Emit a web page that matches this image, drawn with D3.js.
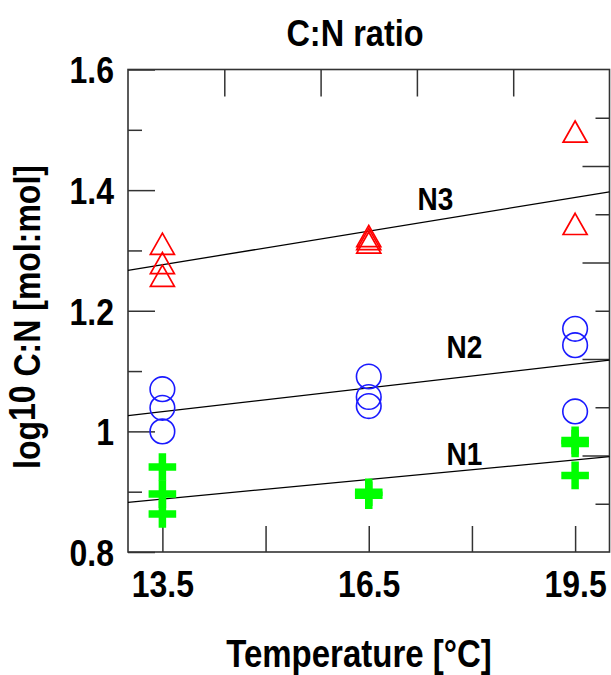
<!DOCTYPE html>
<html>
<head>
<meta charset="utf-8">
<script src="https://cdn.jsdelivr.net/npm/d3@7"></script>
<style>
  html, body { margin: 0; padding: 0; background: #fff; }
  svg { display: block; font-family: "Liberation Sans", Arial, sans-serif; font-weight: bold; }
</style>
</head>
<body>
<svg id="chart" width="611" height="675"></svg>
<script>
// ---- data ----
const title = "C:N ratio";
const xLabel = "Temperature [°C]";
const xTicks = [13.5, 15, 16.5, 18, 19.5];
const xTickLabels = ["13.5", "", "16.5", "", "19.5"];
const yMajorTicks = [0.8, 1.0, 1.2, 1.4, 1.6];
const yMajorLabels = ["0.8", "1", "1.2", "1.4", "1.6"];
const yMinorTicks = [0.9, 1.1, 1.3, 1.5];

// N1 (green crosses)
const n1Temp = [13.5, 13.5, 13.5, 16.5, 16.5, 19.5, 19.5, 19.5];
const n1Value = [0.941, 0.896, 0.863, 0.899, 0.894, 0.985, 0.980, 0.927];
// N2 (blue circles)
const n2Temp = [13.5, 13.5, 13.5, 16.5, 16.5, 16.5, 19.5, 19.5, 19.5];
const n2Value = [1.070, 1.039, 1.000, 1.091, 1.057, 1.042, 1.170, 1.143, 1.033];
// N3 (red triangles)
const n3Temp = [13.5, 13.5, 13.5, 16.5, 16.5, 16.5, 19.5, 19.5];
const n3Value = [1.311, 1.279, 1.258, 1.324, 1.319, 1.313, 1.497, 1.344];

// regression lines
const fitTemp = [13, 20];
const n1Fit = [0.8824, 0.958];
const n2Fit = [1.026, 1.118];
const n3Fit = [1.267, 1.397];

// series labels
const seriesNames = ["N1", "N2", "N3"];
const seriesLabelTemp = [17.63, 17.63, 17.21];
const seriesLabelValue = [0.944, 1.121, 1.367];

// ---- layout ----
const svg = d3.select("#chart");
const margin = { top: 69.5, left: 128, right: 1.5, bottom: 123 };
const W = 611 - margin.left - margin.right;
const H = 675 - margin.top - margin.bottom;
const frameColor = "#333";
const S = 1.15; // vertical stretch of glyphs

const x = d3.scaleLinear().domain([13, 20]).range([0, W]);
const y = d3.scaleLinear().domain([0.8, 1.6]).range([H, 0]);
// secondary (unlabelled) axes on top and right
const xTop = d3.scaleLinear().domain([0, 5]).range([0, W]);
const yRight = d3.scaleLinear().domain([0, 10]).range([H, 0]);

const g = svg.append("g").attr("transform", `translate(${margin.left},${margin.top})`);

function styleAxis(sel) {
  sel.select(".domain").remove();
  sel.selectAll(".tick line").attr("stroke", frameColor).attr("stroke-width", 1.5);
  sel.selectAll(".tick text")
    .attr("fill", "#000")
    .attr("transform", `scale(1,${S})`)
    .style("font-family", "'Liberation Sans', Arial, sans-serif")
    .style("font-weight", "bold")
    .style("font-size", "32px");
}

// bottom axis
g.append("g").attr("transform", `translate(0,${H})`)
  .call(d3.axisBottom(x).tickValues(xTicks)
    .tickFormat((d, i) => xTickLabels[i]).tickSizeInner(-26).tickSizeOuter(0).tickPadding(16.5))
  .call(styleAxis);

// left axis: minor then major
g.append("g")
  .call(d3.axisLeft(y).tickValues(yMinorTicks).tickFormat("").tickSizeInner(-14).tickSizeOuter(0))
  .call(styleAxis);
g.append("g")
  .call(d3.axisLeft(y).tickValues(yMajorTicks)
    .tickFormat((d, i) => yMajorLabels[i]).tickSizeInner(-27).tickSizeOuter(0).tickPadding(14))
  .call(styleAxis)
  .call(s => s.selectAll(".tick text").attr("dy", "0.36em"));

// top axis
g.append("g")
  .call(d3.axisTop(xTop).tickValues([1, 2, 3, 4]).tickFormat("").tickSizeInner(-27).tickSizeOuter(0))
  .call(styleAxis);

// right axis (alternating long/short)
g.append("g").attr("transform", `translate(${W},0)`)
  .call(d3.axisRight(yRight).tickValues([1, 3, 5, 7, 9]).tickFormat("").tickSizeInner(-14).tickSizeOuter(0))
  .call(styleAxis);
g.append("g").attr("transform", `translate(${W},0)`)
  .call(d3.axisRight(yRight).tickValues([2, 4, 6, 8]).tickFormat("").tickSizeInner(-27).tickSizeOuter(0))
  .call(styleAxis);

// frame
g.append("rect").attr("x", 0).attr("y", 0).attr("width", W).attr("height", H)
  .attr("fill", "none").attr("stroke", frameColor).attr("stroke-width", 1.6);

// regression lines
const line = d3.line().x(d => x(d[0])).y(d => y(d[1]));
[n1Fit, n2Fit, n3Fit].forEach(fit => {
  g.append("path")
    .attr("d", line(fitTemp.map((t, i) => [t, fit[i]])))
    .attr("fill", "none").attr("stroke", "#000").attr("stroke-width", 1.3);
});

// N1: green crosses
const crossPath = "M-13.8,0H13.8M0,-13.8V13.8";
g.append("g").selectAll("path").data(n1Temp.map((t, i) => [t, n1Value[i]])).join("path")
  .attr("transform", d => `translate(${x(d[0])},${y(d[1])})`)
  .attr("d", crossPath)
  .attr("stroke", "#00ff00").attr("stroke-width", 7.5).attr("fill", "none");

// N2: blue circles
g.append("g").selectAll("circle").data(n2Temp.map((t, i) => [t, n2Value[i]])).join("circle")
  .attr("cx", d => x(d[0])).attr("cy", d => y(d[1])).attr("r", 12.3)
  .attr("fill", "none").attr("stroke", "#1a1aff").attr("stroke-width", 1.6);

// N3: red triangles
const triPath = "M0,-10.6L12,10.6L-12,10.6Z";
g.append("g").selectAll("path").data(n3Temp.map((t, i) => [t, n3Value[i]])).join("path")
  .attr("transform", d => `translate(${x(d[0])},${y(d[1])})`)
  .attr("d", triPath)
  .attr("fill", "none").attr("stroke", "#ff0000").attr("stroke-width", 1.7);

// series labels
g.append("g").selectAll("text").data(seriesNames).join("text")
  .attr("transform", (d, i) => `translate(${x(seriesLabelTemp[i])},${y(seriesLabelValue[i])}) scale(1,${S})`)
  .attr("font-size", 28).attr("fill", "#000")
  .text(d => d);

// title
svg.append("text").attr("transform", `translate(355,46) scale(1,${S})`).attr("text-anchor", "middle")
  .attr("font-size", 32.5).attr("fill", "#000").text(title);

// x label
svg.append("text").attr("transform", `translate(359,667) scale(1,${S})`).attr("text-anchor", "middle")
  .attr("font-size", 33).attr("fill", "#000").text(xLabel);

// y label
const yl = svg.append("text")
  .attr("transform", `translate(40,317) rotate(-90) scale(1,${S})`)
  .attr("text-anchor", "middle").attr("font-size", 32).attr("fill", "#000");
yl.append("tspan").text("log");
yl.append("tspan").attr("dy", -4).text("10");
yl.append("tspan").attr("dy", 4).text(" C:N [mol:mol]");
</script>
</body>
</html>
